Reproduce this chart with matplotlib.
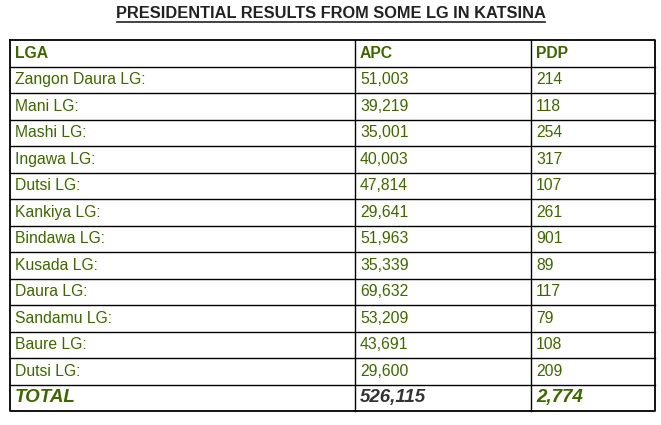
import matplotlib
matplotlib.use("Agg")
import matplotlib.pyplot as plt

title = "PRESIDENTIAL RESULTS FROM SOME LG IN KATSINA"
headers = ["LGA", "APC", "PDP"]
lgas = ["Zangon Daura LG:", "Mani LG:", "Mashi LG:", "Ingawa LG:", "Dutsi LG:",
        "Kankiya LG:", "Bindawa LG:", "Kusada LG:", "Daura LG:", "Sandamu LG:",
        "Baure LG:", "Dutsi LG:"]
apc = [51003, 39219, 35001, 40003, 47814, 29641, 51963, 35339, 69632, 53209, 43691, 29600]
pdp = [214, 118, 254, 317, 107, 261, 901, 89, 117, 79, 108, 209]
total_apc = 526115
total_pdp = 2774

green = "#3d6600"
font = "Liberation Sans"
fs = 11.3

fig = plt.figure(figsize=(6.61, 4.25), dpi=100)
ax = fig.add_axes([0, 0, 1, 1])
ax.set_xlim(0, 661)
ax.set_ylim(425, 0)
ax.axis("off")

# title with underline
ax.text(331, 13, title, ha="center", va="center", fontsize=11.8, fontweight="bold",
        family=font, color="#222222")
ax.plot([117, 545], [22, 22], color="#222222", lw=1.2)

left, right = 10, 655
cols = [10, 355, 531]
top, bottom = 40, 411
nrows = len(lgas) + 2
rh = (bottom - top) / nrows

ax.plot([left, right, right, left, left], [top, top, bottom, bottom, top], color="black", lw=1.3)
for c in cols[1:]:
    ax.plot([c, c], [top, bottom], color="black", lw=1)
for i in range(1, nrows):
    ax.plot([left, right], [top + i * rh, top + i * rh], color="black", lw=1)

def cy(i):
    return top + (i + 0.5) * rh

for j, h in enumerate(headers):
    ax.text(cols[j] + 5, cy(0), h, va="center", fontsize=fs, fontweight="bold",
            family=font, color=green)
for i, name in enumerate(lgas):
    r = i + 1
    ax.text(cols[0] + 5, cy(r), name, va="center", fontsize=fs, family=font, color=green)
    ax.text(cols[1] + 5, cy(r), f"{apc[i]:,}", va="center", fontsize=fs, family=font, color=green)
    ax.text(cols[2] + 5, cy(r), f"{pdp[i]:,}", va="center", fontsize=fs, family=font, color=green)

r = nrows - 1
ax.text(cols[0] + 5, cy(r), "TOTAL", va="center", fontsize=13.5, fontweight="bold",
        fontstyle="italic", family=font, color=green)
ax.text(cols[1] + 5, cy(r), f"{total_apc:,}", va="center", fontsize=13.5, fontweight="bold",
        fontstyle="italic", family=font, color="#333333")
ax.text(cols[2] + 5, cy(r), f"{total_pdp:,}", va="center", fontsize=13.5, fontweight="bold",
        fontstyle="italic", family=font, color=green)

fig.savefig("out.png", dpi=100)
